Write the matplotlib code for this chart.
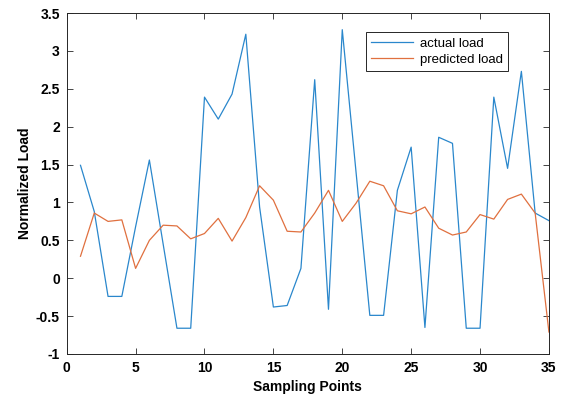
import matplotlib
matplotlib.use('Agg')
import matplotlib.pyplot as plt

plt.rcParams['font.family'] = ['Liberation Sans', 'DejaVu Sans']
plt.rcParams['axes.unicode_minus'] = False

# sampling points 1..35
points = list(range(1, 36))
actual_load = [1.49, 0.88, -0.24, -0.24, 0.68, 1.56, 0.45, -0.66, -0.66, 2.39,
               2.10, 2.43, 3.22, 0.94, -0.38, -0.36, 0.13, 2.62, -0.41, 3.28,
               1.40, -0.49, -0.49, 1.16, 1.73, -0.65, 1.86, 1.78, -0.66, -0.66,
               2.39, 1.45, 2.73, 0.86, 0.76]
predicted_load = [0.29, 0.86, 0.75, 0.77, 0.13, 0.50, 0.70, 0.69, 0.52, 0.59,
                  0.79, 0.49, 0.80, 1.22, 1.03, 0.62, 0.61, 0.86, 1.16, 0.75,
                  0.99, 1.28, 1.22, 0.89, 0.85, 0.94, 0.66, 0.57, 0.61, 0.84,
                  0.78, 1.04, 1.11, 0.86, -0.71]

fig = plt.figure(figsize=(5.63, 4.03), dpi=100)
ax = fig.add_axes([0.1185, 0.1216, 0.8565, 0.8461])

ax.plot(points, actual_load, color='#2a87cc', linewidth=0.9, label='actual load')
ax.plot(points, predicted_load, color='#e0703f', linewidth=0.9, label='predicted load')

ax.set_xlim(0, 35)
ax.set_ylim(-1, 3.5)
ax.set_xticks(range(0, 36, 5))
ax.set_yticks([-1, -0.5, 0, 0.5, 1, 1.5, 2, 2.5, 3, 3.5])
ax.set_yticklabels(['-1', '-0.5', '0', '0.5', '1', '1.5', '2', '2.5', '3', '3.5'])
ax.tick_params(direction='in', top=True, right=True, length=4, width=0.6,
               labelsize=10, color='#262626', pad=5)
for lbl in ax.get_xticklabels() + ax.get_yticklabels():
    lbl.set_fontweight('bold')
for s in ax.spines.values():
    s.set_linewidth(0.7)
    s.set_color('#262626')

ax.set_xlabel('Sampling Points', fontsize=10, fontweight='bold', labelpad=4)
ax.set_ylabel('Normalized Load', fontsize=10, fontweight='bold', labelpad=3)

leg = ax.legend(loc='upper right', bbox_to_anchor=(0.915, 0.944), fontsize=9.5,
                fancybox=False, framealpha=1, edgecolor='#262626',
                handlelength=3.2, handletextpad=0.5, borderaxespad=0,
                borderpad=0.4, labelspacing=0.3)
leg.get_frame().set_linewidth(0.7)

fig.savefig('out.png', dpi=100)
